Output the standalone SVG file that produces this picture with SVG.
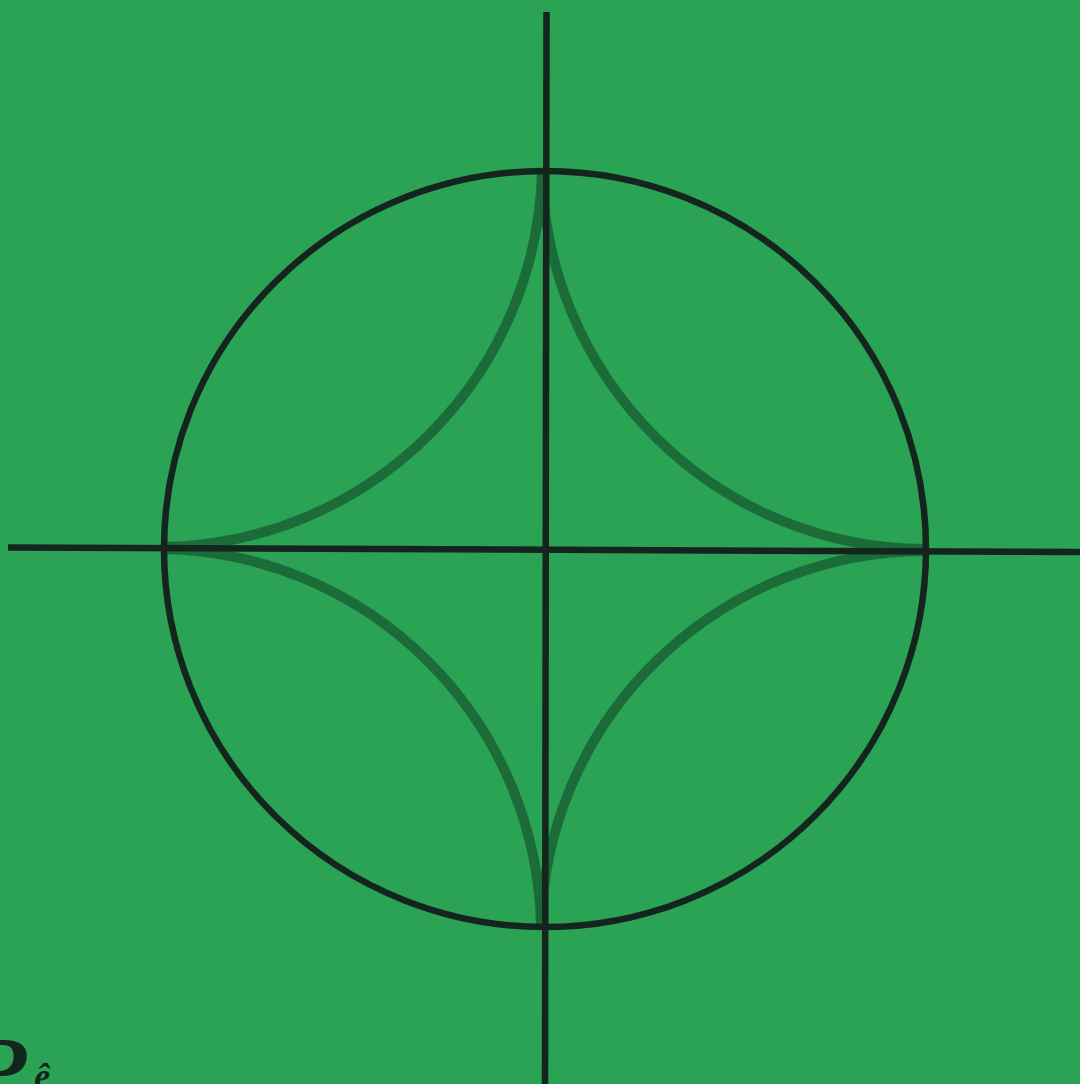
<svg xmlns="http://www.w3.org/2000/svg" width="1080" height="1084" viewBox="0 0 1080 1084">
<style>
.ink{fill:none;stroke:#13251c;stroke-width:6.5}
.astroid{fill:none;stroke:#1a6636;stroke-opacity:0.9;stroke-width:10;stroke-linecap:butt}
.sig{font-family:"Liberation Serif",serif;font-style:italic;font-weight:bold;fill:#13251c}
</style>
<rect x="0" y="0" width="1080" height="1084" fill="#2aa355"/>
<g id="astroid">
<path class="astroid" d="M166,547 A385,385 0 0 0 542,172"/>
<path class="astroid" d="M542,172 A385,385 0 0 0 924,549"/>
<path class="astroid" d="M924,551 A385,385 0 0 0 541,926"/>
<path class="astroid" d="M541,926 A385,385 0 0 0 166,549"/>
</g>
<g id="connectors">
<ellipse id="circle" class="ink" cx="545" cy="549" rx="381" ry="378"/>
<line class="ink" x1="8" y1="547.5" x2="1080" y2="552"/>
<line class="ink" x1="546.5" y1="12" x2="545" y2="1084"/>
</g>
<text class="sig" x="-30" y="1100"><tspan font-size="92">P</tspan><tspan font-size="36" dx="8" dy="-12">ê</tspan></text>
</svg>
